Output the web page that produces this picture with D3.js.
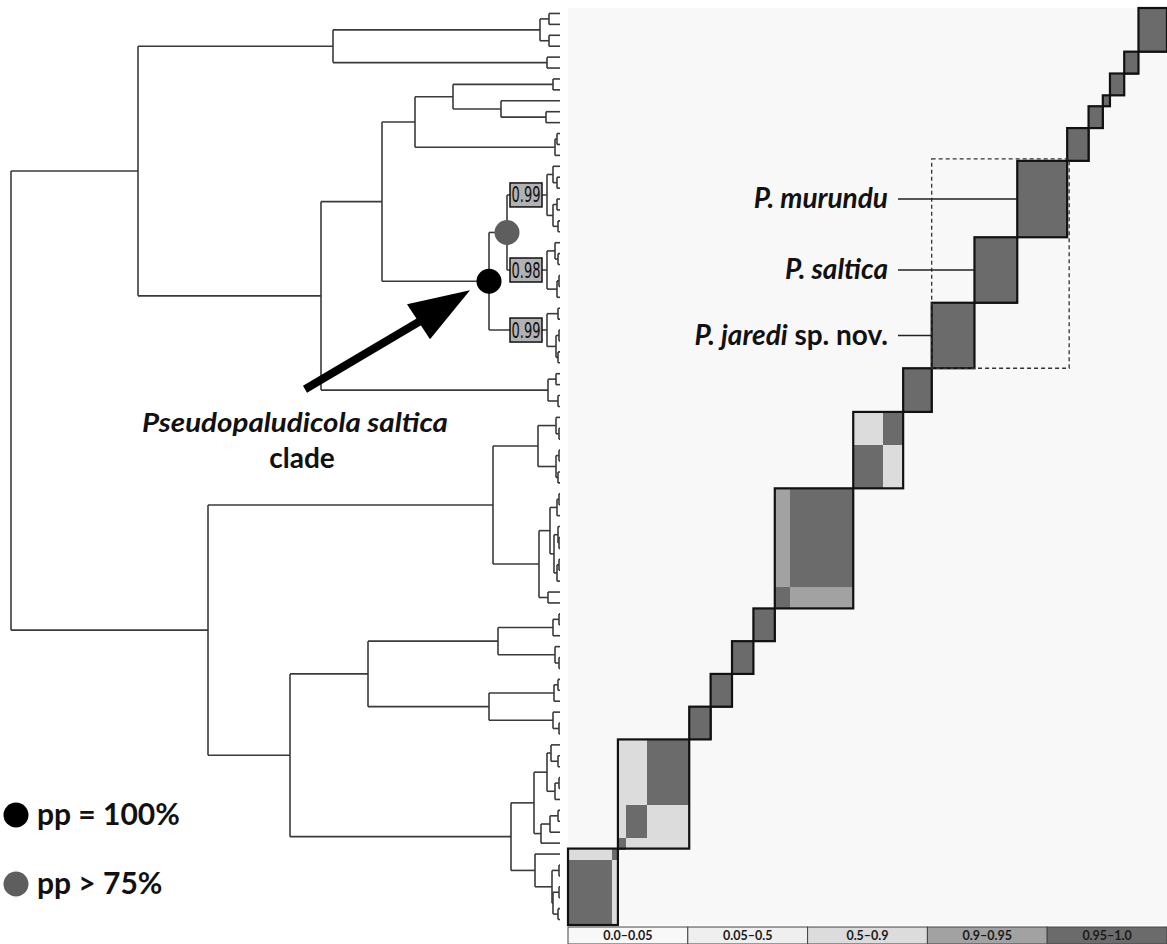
<!DOCTYPE html>
<html>
<head>
<meta charset="utf-8">
<title>Pseudopaludicola co-assignment</title>
<script src="https://cdn.jsdelivr.net/npm/d3@7"></script>
<style>
body { margin: 0; background: #fff; }
text { font-family: Lato, "Open Sans", sans-serif; }
</style>
</head>
<body>
<script>
// tree, branch lengths in plot units
var treeNewick =
  "(" +
   "(" +
    "(((g1_1:11,g1_2:11):9,(g1_3:11,g1_4:11):9)g1:207,(g2_1:13,g2_2:13)g2:214)U1:195," +
    "(" +
     "(" +
      "(((g3_1:7,g3_2:7)g3:100,(g4_1:59,(g5_1:14,g5_2:14)g5:45)n490:48)n442:38,((g6_1:3,g6_2:3):2,g6_3:5)g6:140)U2a1:33," +
      "((((mur_1:7,(mur_2:3,mur_3:3):4):6,((mur_4:3,mur_5:3):4,(mur_6:2,mur_7:2):5):6)mur:40," +
       "((sal_1:5,(sal_2:2,sal_3:2):3):8,((sal_4:1,sal_5:1):2,sal_6:3):10)sal:40)MS:18," +
       "((jar_1:2,jar_2:2):11,((jar_3:1,jar_4:1):3,(jar_5:2,jar_6:2):2):9)jar:58)SC:107" +
     ")U2a:61," +
     "((g10_1:4,g10_2:4):8,(g10_3:2,g10_4:2):10)g10:227" +
    ")U2:183" +
   ")U:127," +
   "(" +
    "(" +
     "((C_1:4,(C_2:1,C_3:1):3)C:18,((D_1:1,D_2:1):3,(D_3:2,D_4:2):2)D:18)n527:45," +
     "((((A_1:1,A_2:1):2,A_3:3):7,((A_4:2,(A_5:1,A_6:1):1):4,((A_7:1,A_8:1):2,A_9:3):3):4)A:11,(B_1:12,B_2:12)B:9)n528:46" +
    ")L1:285," +
    "(" +
     "((((g13_1:1,g13_2:1):6,g13_3:7)g13:55,(g14_1:5,(g14_2:1,g14_3:1):4)g14:57)n487:130," +
      "(((g15_1:2,g15_2:2):4,g15_3:6)g15:65,(g16_1:7,(g16_2:1,g16_3:1):6)g16:64)n478:121)n357:78," +
     "((((E_1:9,(E_2:2,E_3:2):7):4,((E_4:1,E_5:1):4,E_6:5):8)E:13,(((F_1:2,F_2:2):8,F_3:10)F:9,G_1:19)FG:7)n523:23," +
      "(H_1:25,((I_1:1,I_2:1):7,((I_3:1,I_4:1):6,(I_5:2,I_6:2):5):1)I:17)n524:24)n500:221" +
    ")L2:82" +
   ")L:197" +
  ");";

// clusters of the co-assignment matrix, top to bottom
var blocks = [["g1"],["g2"],["g3"],["g4"],["g5"],["g6"],["mur"],["sal"],["jar"],["g10"],
  ["C","D"],["A","B"],["g13"],["g14"],["g15"],["g16"],["E","F","G"],["H","I"]];
// co-assignment class between different groups of one cluster
var crossClass = [["C","D",2],["A","B",3],["E","F",2],["E","G",2],["F","G",2],["H","I",2]];
var classLabels = ["0.0\u20130.05","0.05\u20130.5","0.5\u20130.9","0.9\u20130.95","0.95\u20131.0"];
var classColors = ["#f8f8f8","#efefef","#dcdcdc","#a2a2a2","#6b6b6b"];

// posterior probabilities
var ppBoxes = [["mur","0.99"],["sal","0.98"],["jar","0.99"]];
var ppCircles = [["SC",1.0],["MS",0.8]];
var species = [["mur","P. murundu",""],["sal","P. saltica",""],["jar","P. jaredi"," sp. nov."]];

function parseNewick(s) {
  s = s.replace(/\s/g, "");
  var pos = 0;
  function node() {
    var n = {children: []};
    if (s[pos] == "(") {
      pos++;
      n.children.push(node());
      while (s[pos] == ",") { pos++; n.children.push(node()); }
      pos++;
    }
    var m = /^[^:,();]*/.exec(s.slice(pos))[0];
    n.name = m; pos += m.length;
    n.length = 0;
    if (s[pos] == ":") {
      pos++;
      var l = /^[0-9.]+/.exec(s.slice(pos))[0];
      n.length = +l; pos += l.length;
    }
    if (!n.children.length) delete n.children;
    return n;
  }
  return node();
}

var W = 1167, H = 944;
var svg = d3.select("body").append("svg")
    .attr("width", W)
    .attr("height", H)
    .style("display", "block");
svg.append("rect").attr("width", W).attr("height", H).attr("fill", "#fff");

var root = d3.hierarchy(parseNewick(treeNewick));
root.eachBefore(function(d) { d.len = d.parent ? d.parent.len + d.data.length : 0; });
var leaves = root.leaves();
var leafNames = leaves.map(function(d) { return d.data.name; });

var y = d3.scaleBand().domain(leafNames).range([8, 925]);
var x = d3.scaleLinear().domain([0, d3.max(leaves, function(d) { return d.len; })]).range([11, 560]);
var col = d3.scaleBand().domain(leafNames.slice().reverse()).range([568, 1167]);
var color = d3.scaleOrdinal().domain(d3.range(5)).range(classColors);

leaves.forEach(function(d) { d.py = y(d.data.name) + y.bandwidth() / 2; });
root.eachAfter(function(d) {
  if (d.children) d.py = (d.children[0].py + d.children[d.children.length - 1].py) / 2;
});
function byName(n) { return root.descendants().find(function(d) { return d.data.name == n; }); }

//Matrix
var group = function(n) { return n.split("_")[0]; };
var blockOf = {};
blocks.forEach(function(b, i) { b.forEach(function(g) { blockOf[g] = i; }); });
function pairClass(a, b) {
  var ga = group(a), gb = group(b);
  if (ga == gb) return 4;
  if (blockOf[ga] != blockOf[gb]) return 0;
  var c = crossClass.find(function(p) { return (p[0] == ga && p[1] == gb) || (p[0] == gb && p[1] == ga); });
  return c ? c[2] : 0;
}
var cells = [];
leafNames.forEach(function(r) {
  leafNames.forEach(function(c) {
    var k = pairClass(r, c);
    if (k > 0) cells.push({r: r, c: c, k: k});
  });
});

svg.append("rect")
    .attr("x", 568).attr("y", 8)
    .attr("width", 1167 - 568).attr("height", 925 - 8)
    .attr("fill", color(0));

svg.append("g")
    .attr("shape-rendering", "crispEdges")
  .selectAll("rect")
    .data(cells)
    .enter().append("rect")
      .attr("x", function(d) { return col(d.c); })
      .attr("y", function(d) { return y(d.r); })
      .attr("width", col.bandwidth() + 1)
      .attr("height", y.bandwidth() + 1)
      .attr("fill", function(d) { return color(d.k); });

function blockBox(b) {
  var ls = leafNames.filter(function(n) { return b.indexOf(group(n)) >= 0; });
  var first = ls[0], last = ls[ls.length - 1];
  return {x0: col(last), x1: col(first) + col.bandwidth(), y0: y(first), y1: y(last) + y.bandwidth()};
}
svg.append("g").selectAll("rect")
    .data(blocks.map(blockBox))
    .enter().append("rect")
      .attr("x", function(d) { return d.x0; })
      .attr("y", function(d) { return d.y0; })
      .attr("width", function(d) { return d.x1 - d.x0; })
      .attr("height", function(d) { return d.y1 - d.y0; })
      .attr("fill", "none")
      .attr("stroke", "#111")
      .attr("stroke-width", 2.2);

//dashed box round the three species
var bm = blockBox(["mur"]), bj = blockBox(["jar"]);
svg.append("rect")
    .attr("x", bj.x0).attr("y", bm.y0 - 2)
    .attr("width", bm.x1 + 2 - bj.x0).attr("height", bj.y1 - bm.y0 + 2)
    .attr("fill", "none")
    .attr("stroke", "#333")
    .attr("stroke-width", 1.3)
    .attr("stroke-dasharray", "4,3");

var sp = svg.append("g").selectAll("g")
    .data(species)
    .enter().append("g");
sp.append("line")
    .attr("x1", 898)
    .attr("x2", function(d) { return blockBox([d[0]]).x0; })
    .attr("y1", function(d) { var b = blockBox([d[0]]); return (b.y0 + b.y1) / 2; })
    .attr("y2", function(d) { var b = blockBox([d[0]]); return (b.y0 + b.y1) / 2; })
    .attr("stroke", "#222")
    .attr("stroke-width", 1.6);
var spt = sp.append("text")
    .attr("x", 888)
    .attr("y", function(d) { var b = blockBox([d[0]]); return (b.y0 + b.y1) / 2 + 9; })
    .attr("text-anchor", "end")
    .attr("font-size", 28)
    .attr("font-weight", "bold")
    .attr("fill", "#111");
spt.append("tspan").attr("font-style", "italic").text(function(d) { return d[1]; });
spt.append("tspan").text(function(d) { return d[2]; });

//Legend bar
var lx = d3.scaleBand().domain(d3.range(5)).range([568, 1167]);
var lg = svg.append("g").selectAll("g")
    .data(classLabels)
    .enter().append("g");
lg.append("rect")
    .attr("x", function(d, i) { return lx(i); })
    .attr("y", 927)
    .attr("width", lx.bandwidth())
    .attr("height", 17)
    .attr("fill", function(d, i) { return color(i); })
    .attr("stroke", "#444")
    .attr("stroke-width", 1);
lg.append("text")
    .attr("x", function(d, i) { return lx(i) + lx.bandwidth() / 2; })
    .attr("y", 940)
    .attr("text-anchor", "middle")
    .attr("font-size", 12.5)
    .attr("font-weight", "bold")
    .attr("fill", "#1a1a1a")
    .text(function(d) { return d; });

//Tree
var tg = svg.append("g")
    .attr("fill", "none")
    .attr("stroke", "#3a3a3a")
    .attr("stroke-width", 1.6);
tg.selectAll(".h")
    .data(root.descendants().filter(function(d) { return d.parent; }))
    .enter().append("path")
      .attr("class", "h")
      .attr("d", function(d) { return "M" + x(d.parent.len) + "," + d.py + "H" + x(d.len); });
tg.selectAll(".v")
    .data(root.descendants().filter(function(d) { return d.children; }))
    .enter().append("path")
      .attr("class", "v")
      .attr("d", function(d) {
        return "M" + x(d.len) + "," + d.children[0].py + "V" + d.children[d.children.length - 1].py;
      });

//pp boxes on branches
var pb = svg.append("g").selectAll("g")
    .data(ppBoxes)
    .enter().append("g")
      .attr("transform", function(d) { var n = byName(d[0]); return "translate(" + (x(n.len) - 21) + "," + n.py + ")"; });
pb.append("rect")
    .attr("x", -16).attr("y", -12)
    .attr("width", 32).attr("height", 24)
    .attr("fill", "#b2b2b2")
    .attr("stroke", "#111")
    .attr("stroke-width", 1.5);
pb.append("text")
    .attr("y", 7.5)
    .attr("text-anchor", "middle")
    .attr("font-size", 21)
    .attr("textLength", 29)
    .attr("lengthAdjust", "spacingAndGlyphs")
    .style("font-family", "'Liberation Sans Narrow', 'DejaVu Sans Condensed', sans-serif")
    .attr("fill", "#111")
    .text(function(d) { return d[1]; });

//support circles
var ppColor = function(p) { return p >= 1 ? "#000" : "#5e5e5e"; };
svg.append("g").selectAll("circle")
    .data(ppCircles)
    .enter().append("circle")
      .attr("cx", function(d) { return x(byName(d[0]).len); })
      .attr("cy", function(d) { return byName(d[0]).py; })
      .attr("r", 12.5)
      .attr("fill", function(d) { return ppColor(d[1]); });

//Arrow to the clade node
var sc = byName("SC");
var tipX = x(sc.len) - 19, tipY = sc.py + 9;
svg.append("line")
    .attr("x1", tipX - 165).attr("y1", tipY + 99)
    .attr("x2", tipX - 45).attr("y2", tipY + 28)
    .attr("stroke", "#000")
    .attr("stroke-width", 8);
svg.append("polygon")
    .attr("points", [[tipX, tipY], [tipX - 63, tipY + 14], [tipX - 40, tipY + 49]].map(function(p) { return p.join(","); }).join(" "))
    .attr("fill", "#000");

svg.append("text")
    .attr("x", 295).attr("y", 432)
    .attr("text-anchor", "middle")
    .attr("font-size", 27)
    .attr("font-weight", "bold")
    .attr("font-style", "italic")
    .attr("textLength", 306)
    .attr("lengthAdjust", "spacingAndGlyphs")
    .attr("fill", "#111")
    .text("Pseudopaludicola saltica");
svg.append("text")
    .attr("x", 302).attr("y", 468)
    .attr("text-anchor", "middle")
    .attr("font-size", 28)
    .attr("font-weight", "bold")
    .attr("fill", "#111")
    .text("clade");

//pp legend
var ppLegend = [[1.0, "pp = 100%"], [0.8, "pp > 75%"]];
var pl = svg.append("g").selectAll("g")
    .data(ppLegend)
    .enter().append("g")
      .attr("transform", function(d, i) { return "translate(16," + (815 + i * 69) + ")"; });
pl.append("circle")
    .attr("r", 12.5)
    .attr("fill", function(d) { return ppColor(d[0]); });
pl.append("text")
    .attr("x", 21).attr("y", 10)
    .attr("font-size", 30)
    .attr("font-weight", "bold")
    .attr("fill", "#111")
    .text(function(d) { return d[1]; });
</script>
</body>
</html>
